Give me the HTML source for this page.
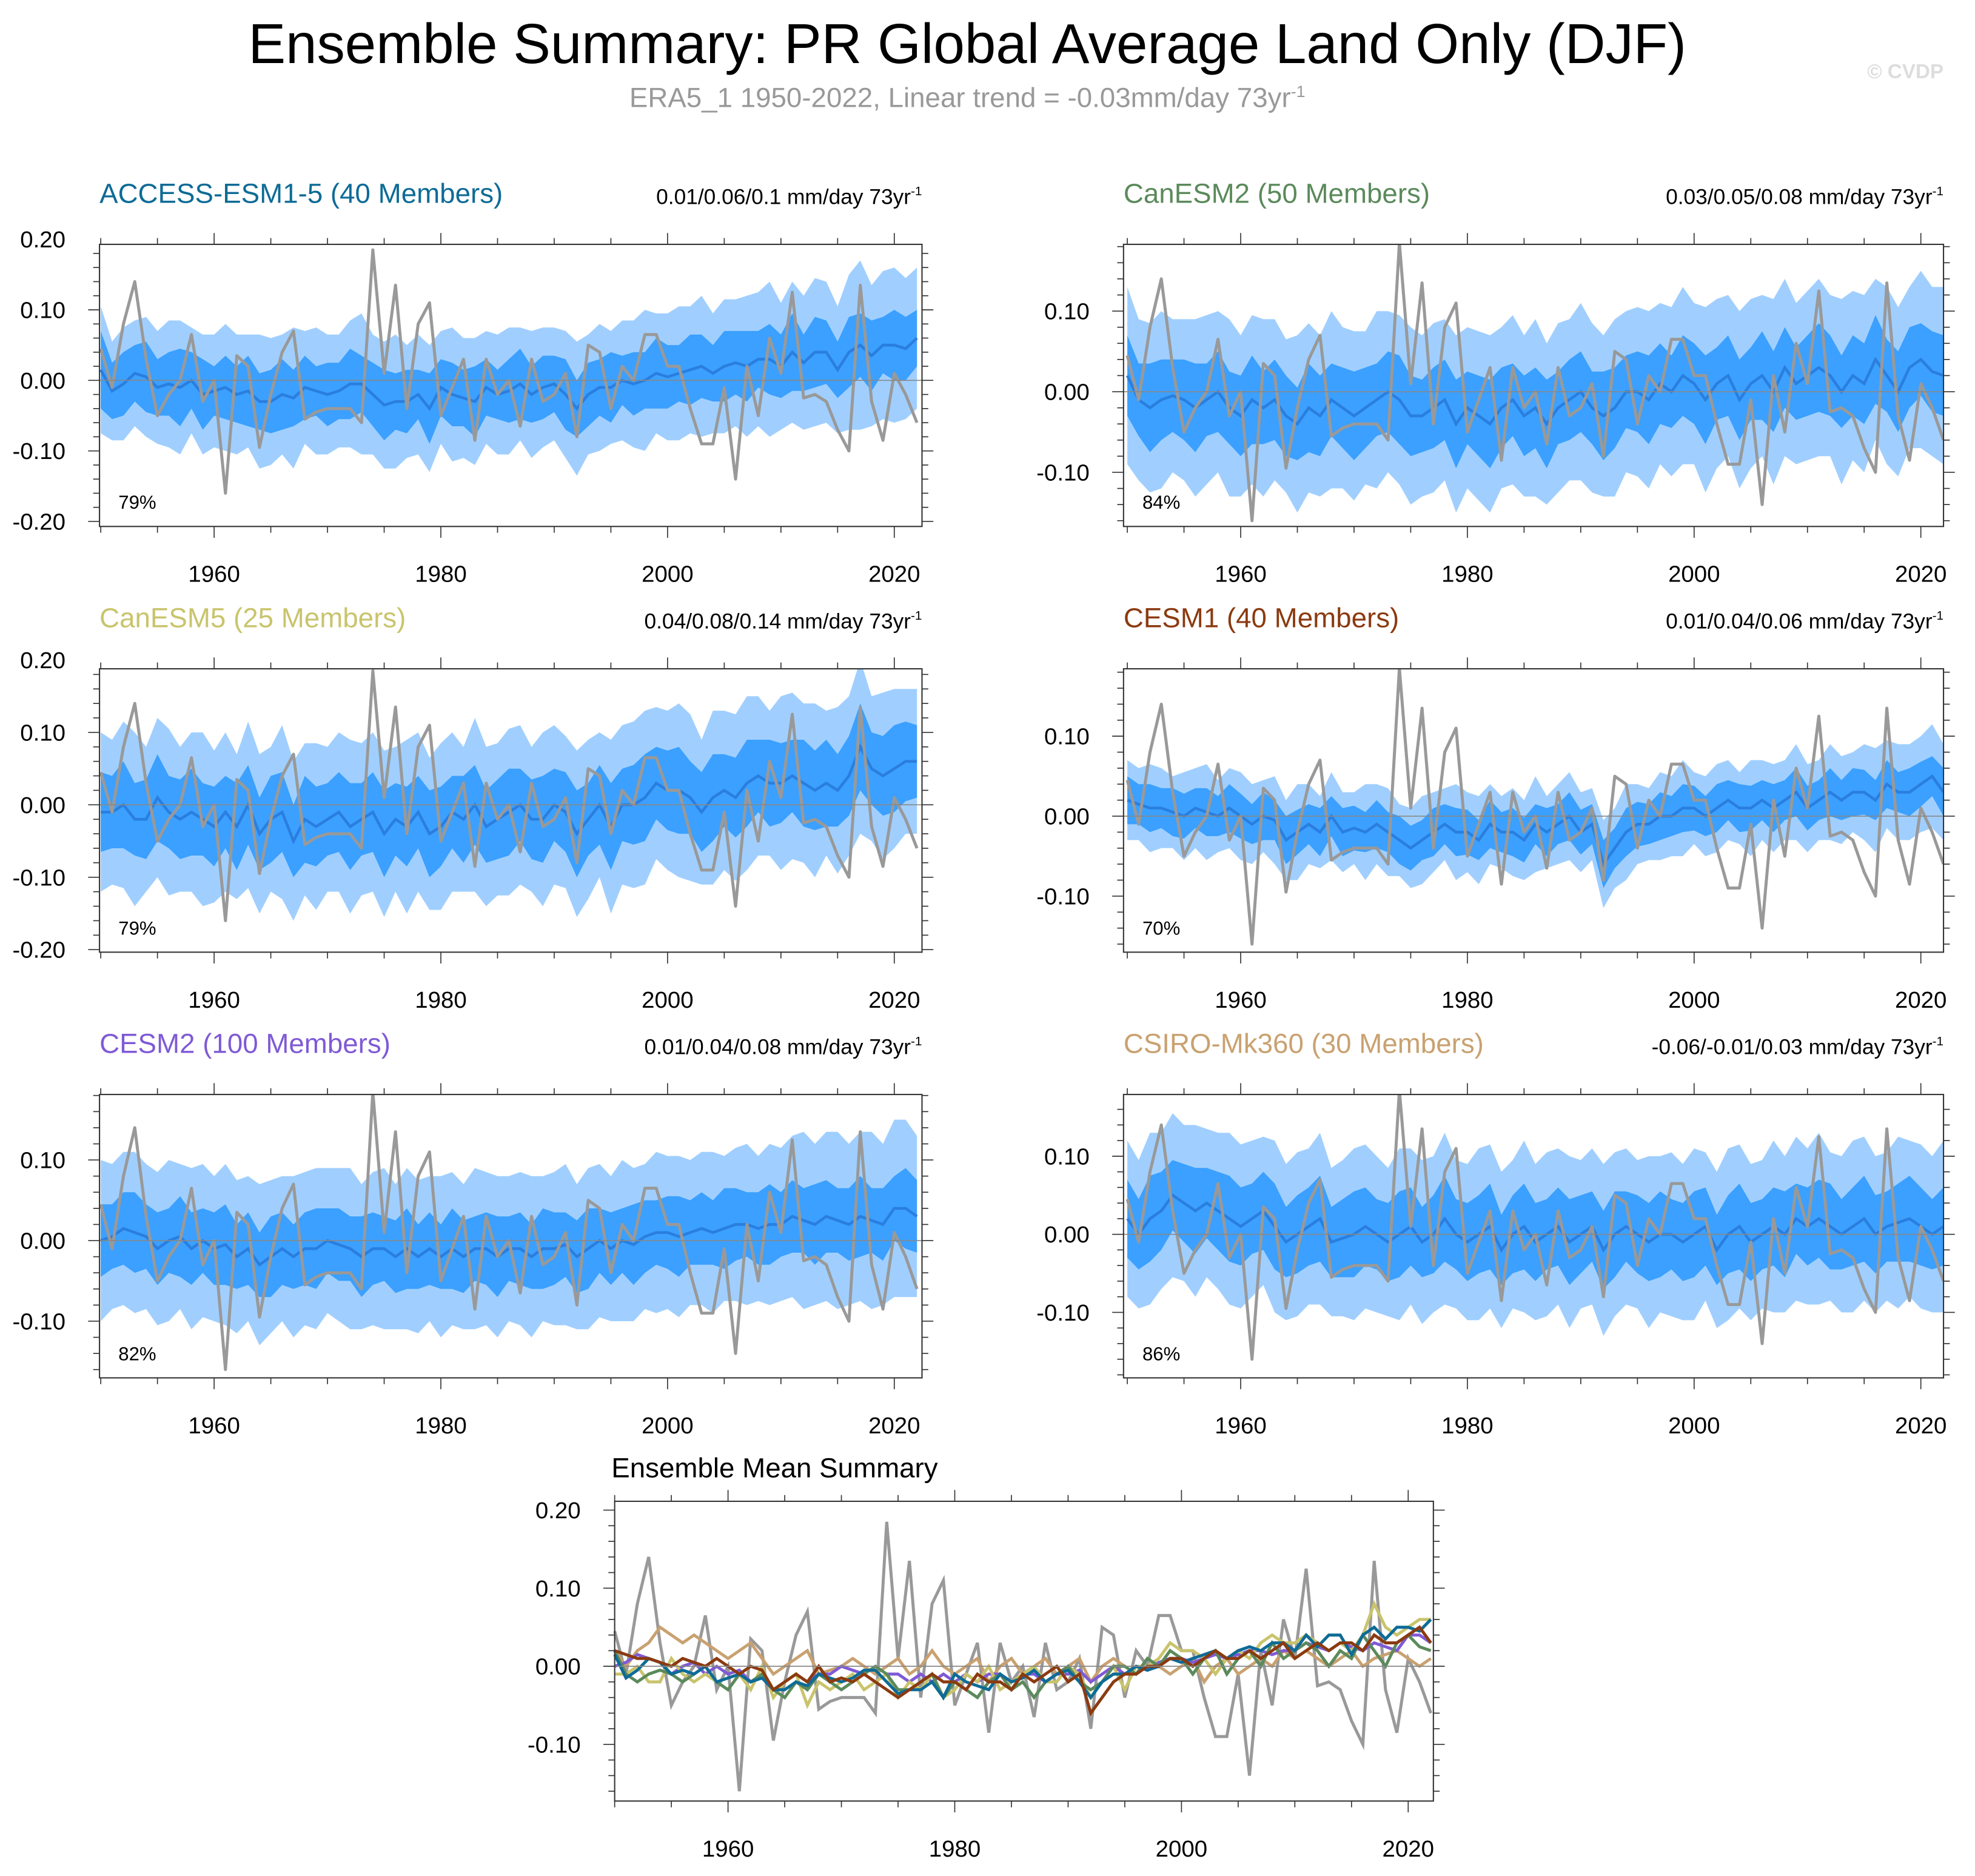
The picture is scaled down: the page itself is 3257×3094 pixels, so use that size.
<!DOCTYPE html>
<html><head><meta charset="utf-8"><style>
html,body{margin:0;padding:0;background:#fff;}
svg{display:block;font-family:"Liberation Sans",sans-serif;}
</style></head><body>
<svg id="chart" width="3257" height="3094" viewBox="0 0 1568 1489.5" xmlns="http://www.w3.org/2000/svg">
<rect width="1568" height="1489.5" fill="#fff"/>
<text x="768" y="50" text-anchor="middle" font-size="44.5" fill="#000">Ensemble Summary: PR Global Average Land Only (DJF)</text>
<text x="768" y="85" text-anchor="middle" font-size="22" fill="#999">ERA5_1 1950-2022, Linear trend = -0.03mm/day 73yr<tspan dy="-8" font-size="13">-1</tspan></text>
<text x="1543" y="62" text-anchor="end" font-size="16" font-weight="bold" fill="#ddd">© CVDP</text>
<text x="615" y="1173" text-anchor="middle" font-size="22" fill="#000">Ensemble Mean Summary</text>
<g id="plots"></g>
</svg>
<script>
const years = []; for (let y=1950; y<=2022; y++) years.push(y);
const obs = [0.045,-0.01,0.08,0.14,0.03,-0.05,-0.02,0.0,0.065,-0.03,0.0,-0.16,0.035,0.02,-0.095,-0.02,0.04,0.07,-0.055,-0.045,-0.04,-0.04,-0.04,-0.06,0.185,0.01,0.135,-0.04,0.08,0.11,-0.05,-0.01,0.03,-0.085,0.03,-0.02,0.0,-0.065,0.03,-0.03,-0.02,0.01,-0.08,0.05,0.04,-0.04,0.02,0.0,0.065,0.065,0.02,0.02,-0.04,-0.09,-0.09,-0.01,-0.14,0.02,-0.05,0.06,0.01,0.125,-0.025,-0.02,-0.03,-0.07,-0.1,0.135,-0.03,-0.085,0.01,-0.02,-0.06];
const accMean = [0.015,-0.015,-0.005,0.01,0.005,-0.01,-0.005,-0.01,0.0,-0.02,-0.015,-0.01,-0.02,-0.015,-0.03,-0.03,-0.02,-0.025,-0.01,-0.015,-0.02,-0.015,-0.005,-0.005,-0.02,-0.035,-0.03,-0.03,-0.02,-0.04,-0.01,-0.02,-0.025,-0.03,-0.01,-0.02,-0.015,-0.005,-0.02,-0.01,-0.005,-0.02,-0.04,-0.02,-0.01,-0.01,0.0,-0.005,0.0,0.01,0.005,0.01,0.015,0.02,0.01,0.02,0.025,0.02,0.03,0.03,0.02,0.04,0.025,0.04,0.04,0.015,0.04,0.05,0.035,0.05,0.05,0.045,0.06];
const can2Mean = [0.02,-0.01,-0.02,-0.01,-0.005,-0.01,-0.02,-0.01,0.0,-0.02,-0.03,-0.01,-0.02,-0.01,-0.03,-0.04,-0.02,-0.03,-0.01,-0.02,-0.03,-0.02,-0.01,0.0,-0.01,-0.03,-0.03,-0.02,-0.01,-0.04,-0.02,-0.03,-0.04,-0.02,-0.01,-0.03,-0.02,-0.04,-0.02,-0.01,0.0,-0.02,-0.03,-0.02,0.0,0.0,-0.01,0.01,0.0,0.02,0.01,-0.01,0.01,0.02,-0.01,0.01,0.02,0.0,0.03,0.01,0.02,0.03,0.02,0.0,0.02,0.01,0.04,0.02,0.0,0.03,0.04,0.025,0.02];
const can5Mean = [-0.01,-0.01,0.0,-0.02,-0.02,0.01,-0.01,-0.02,-0.01,-0.02,-0.03,-0.01,-0.03,0.0,-0.04,-0.02,-0.01,-0.05,-0.02,-0.03,-0.02,-0.01,-0.03,-0.02,-0.01,-0.04,-0.02,-0.03,-0.01,-0.04,-0.03,-0.01,-0.02,0.0,-0.03,-0.02,-0.01,0.0,-0.02,-0.02,0.0,-0.01,-0.04,-0.02,0.0,-0.03,0.0,0.0,0.01,0.03,0.02,0.02,0.01,-0.01,0.01,0.02,0.01,0.03,0.04,0.03,0.03,0.04,0.03,0.02,0.03,0.02,0.04,0.08,0.05,0.04,0.05,0.06,0.06];
const cesm1Mean = [0.02,0.015,0.01,0.01,0.005,0.0,0.01,0.005,0.0,0.01,0.0,-0.01,0.0,-0.005,-0.03,-0.02,-0.01,-0.02,0.0,-0.02,-0.015,-0.02,-0.01,-0.02,-0.03,-0.04,-0.03,-0.02,-0.01,-0.02,-0.02,-0.03,-0.01,-0.02,-0.02,-0.03,-0.01,-0.02,-0.01,0.0,-0.02,-0.01,-0.06,-0.04,-0.02,-0.01,-0.01,0.0,0.0,0.01,0.01,0.0,0.01,0.02,0.01,0.01,0.02,0.01,0.02,0.03,0.01,0.02,0.03,0.02,0.03,0.03,0.02,0.04,0.03,0.03,0.04,0.05,0.03];
const cesm2Mean = [0.0,0.005,0.015,0.01,0.005,-0.01,0.0,0.005,-0.01,0.0,-0.01,-0.005,-0.02,-0.01,-0.03,-0.02,-0.01,-0.02,-0.01,-0.01,0.0,-0.005,-0.01,-0.02,-0.01,-0.01,-0.02,-0.01,-0.02,-0.01,-0.02,-0.01,-0.02,-0.01,-0.01,-0.02,-0.01,-0.01,-0.02,-0.01,-0.01,-0.005,-0.02,-0.01,0.0,-0.01,0.0,-0.005,0.005,0.01,0.01,0.005,0.01,0.015,0.01,0.015,0.02,0.02,0.015,0.02,0.02,0.03,0.025,0.02,0.03,0.025,0.02,0.03,0.025,0.02,0.04,0.04,0.03];
const csiroMean = [0.02,0.0,0.02,0.03,0.05,0.04,0.03,0.04,0.03,0.02,0.01,0.02,0.03,0.01,-0.01,0.0,0.01,0.02,-0.01,-0.005,0.0,0.01,0.0,-0.01,0.0,0.01,-0.01,0.0,0.02,0.0,-0.01,0.0,0.01,-0.02,0.0,0.01,-0.01,0.0,0.01,-0.01,0.0,0.01,-0.02,0.0,0.01,0.0,-0.01,0.0,0.0,-0.01,0.0,0.01,-0.02,0.0,0.01,-0.01,0.0,0.01,0.0,0.02,0.01,0.02,0.01,0.0,0.01,0.02,0.0,0.01,0.015,0.02,0.01,0.0,0.01];
const accIn = [0.055,0.04,0.045,0.04,0.05,0.04,0.045,0.055,0.04,0.05,0.035,0.045,0.04,0.05,0.04,0.045,0.05,0.04,0.045,0.035,0.045,0.04,0.05,0.04,0.045,0.05,0.04,0.045,0.035,0.05,0.04,0.045,0.04,0.05,0.04,0.035,0.045,0.05,0.04,0.045,0.04,0.05,0.04,0.045,0.04,0.05,0.035,0.045,0.04,0.05,0.045,0.04,0.05,0.045,0.04,0.05,0.045,0.05,0.04,0.05,0.045,0.055,0.04,0.05,0.045,0.04,0.05,0.045,0.05,0.04,0.05,0.045,0.04];
const accOut = [0.09,0.07,0.08,0.075,0.085,0.08,0.09,0.095,0.075,0.085,0.08,0.09,0.085,0.08,0.095,0.09,0.085,0.1,0.08,0.09,0.085,0.08,0.09,0.1,0.085,0.09,0.095,0.08,0.085,0.09,0.08,0.095,0.085,0.09,0.08,0.085,0.09,0.08,0.09,0.085,0.08,0.09,0.095,0.085,0.09,0.08,0.085,0.09,0.1,0.085,0.09,0.095,0.09,0.1,0.085,0.095,0.09,0.1,0.095,0.11,0.09,0.1,0.095,0.105,0.1,0.09,0.11,0.12,0.1,0.105,0.11,0.1,0.1];
const can2In = [0.05,0.045,0.055,0.05,0.045,0.05,0.055,0.045,0.05,0.045,0.05,0.055,0.045,0.05,0.05,0.045,0.055,0.05,0.045,0.05,0.055,0.05,0.045,0.05,0.055,0.05,0.045,0.05,0.05,0.055,0.045,0.05,0.055,0.05,0.045,0.05,0.05,0.055,0.045,0.05,0.05,0.045,0.055,0.05,0.045,0.05,0.055,0.05,0.045,0.05,0.05,0.055,0.045,0.05,0.05,0.045,0.055,0.05,0.05,0.045,0.05,0.055,0.05,0.045,0.05,0.05,0.055,0.045,0.05,0.05,0.045,0.05,0.05];
const can2Out = [0.11,0.1,0.105,0.11,0.095,0.1,0.11,0.105,0.1,0.11,0.1,0.105,0.11,0.1,0.095,0.11,0.105,0.1,0.11,0.1,0.105,0.095,0.11,0.1,0.105,0.11,0.1,0.105,0.1,0.11,0.1,0.105,0.11,0.1,0.105,0.1,0.11,0.1,0.105,0.1,0.11,0.105,0.1,0.11,0.1,0.105,0.11,0.1,0.105,0.11,0.1,0.115,0.105,0.1,0.11,0.105,0.1,0.115,0.11,0.1,0.105,0.11,0.1,0.115,0.105,0.11,0.1,0.11,0.105,0.1,0.11,0.105,0.11];
const can5In = [0.055,0.05,0.06,0.05,0.055,0.06,0.05,0.055,0.06,0.05,0.055,0.05,0.06,0.055,0.05,0.06,0.055,0.05,0.06,0.055,0.05,0.055,0.06,0.05,0.055,0.06,0.05,0.055,0.05,0.06,0.055,0.05,0.06,0.055,0.05,0.055,0.06,0.05,0.055,0.06,0.05,0.055,0.06,0.05,0.055,0.06,0.05,0.055,0.06,0.05,0.055,0.06,0.05,0.055,0.06,0.05,0.055,0.06,0.05,0.06,0.055,0.05,0.06,0.055,0.06,0.05,0.055,0.06,0.05,0.055,0.06,0.055,0.05];
const can5Out = [0.11,0.1,0.115,0.12,0.1,0.11,0.115,0.1,0.11,0.12,0.105,0.11,0.1,0.115,0.11,0.1,0.12,0.11,0.105,0.115,0.1,0.11,0.12,0.105,0.11,0.115,0.1,0.12,0.11,0.105,0.115,0.11,0.1,0.12,0.11,0.105,0.115,0.11,0.1,0.12,0.11,0.105,0.115,0.11,0.1,0.12,0.11,0.115,0.12,0.105,0.11,0.12,0.115,0.1,0.12,0.11,0.115,0.12,0.11,0.1,0.12,0.115,0.11,0.12,0.1,0.115,0.11,0.12,0.1,0.115,0.11,0.1,0.1];
const cesm1In = [0.03,0.025,0.03,0.025,0.03,0.028,0.025,0.03,0.025,0.03,0.028,0.025,0.03,0.025,0.03,0.028,0.025,0.03,0.025,0.03,0.028,0.025,0.03,0.025,0.03,0.028,0.025,0.03,0.025,0.03,0.028,0.025,0.03,0.025,0.03,0.028,0.025,0.03,0.025,0.03,0.028,0.025,0.03,0.025,0.03,0.028,0.025,0.03,0.025,0.03,0.028,0.025,0.03,0.025,0.03,0.028,0.025,0.03,0.025,0.03,0.028,0.025,0.03,0.025,0.03,0.028,0.025,0.03,0.025,0.03,0.028,0.025,0.03];
const cesm1Out = [0.05,0.045,0.055,0.05,0.045,0.055,0.05,0.06,0.045,0.05,0.055,0.05,0.045,0.055,0.05,0.06,0.05,0.045,0.055,0.05,0.045,0.06,0.05,0.055,0.045,0.05,0.055,0.05,0.045,0.06,0.05,0.055,0.05,0.045,0.055,0.05,0.06,0.045,0.05,0.055,0.05,0.045,0.055,0.05,0.06,0.05,0.045,0.055,0.05,0.06,0.045,0.05,0.055,0.05,0.045,0.06,0.05,0.055,0.05,0.06,0.055,0.05,0.06,0.055,0.05,0.06,0.065,0.055,0.06,0.06,0.06,0.065,0.06];
const cesm2In = [0.045,0.04,0.045,0.05,0.04,0.045,0.04,0.05,0.045,0.04,0.045,0.05,0.04,0.045,0.04,0.05,0.045,0.04,0.045,0.05,0.04,0.045,0.04,0.05,0.045,0.04,0.045,0.05,0.04,0.045,0.04,0.05,0.045,0.04,0.045,0.05,0.04,0.045,0.04,0.05,0.045,0.04,0.045,0.05,0.04,0.045,0.04,0.05,0.045,0.04,0.045,0.05,0.04,0.045,0.04,0.05,0.045,0.04,0.045,0.05,0.04,0.045,0.04,0.05,0.045,0.04,0.045,0.05,0.04,0.045,0.04,0.05,0.045];
const cesm2Out = [0.1,0.09,0.095,0.1,0.09,0.095,0.1,0.09,0.1,0.095,0.09,0.1,0.095,0.09,0.1,0.095,0.09,0.1,0.095,0.1,0.09,0.095,0.1,0.09,0.095,0.1,0.09,0.1,0.095,0.09,0.1,0.095,0.09,0.1,0.095,0.1,0.09,0.095,0.1,0.09,0.095,0.1,0.09,0.1,0.095,0.09,0.1,0.095,0.09,0.1,0.095,0.1,0.09,0.095,0.1,0.09,0.095,0.1,0.09,0.1,0.095,0.1,0.11,0.1,0.105,0.11,0.1,0.105,0.11,0.1,0.11,0.11,0.1];
const csiroIn = [0.05,0.045,0.055,0.05,0.045,0.05,0.055,0.045,0.05,0.055,0.05,0.045,0.05,0.055,0.045,0.05,0.05,0.055,0.045,0.05,0.055,0.05,0.045,0.05,0.055,0.05,0.045,0.05,0.055,0.045,0.05,0.05,0.055,0.045,0.05,0.055,0.05,0.045,0.05,0.055,0.05,0.045,0.05,0.055,0.045,0.05,0.05,0.055,0.045,0.05,0.055,0.05,0.045,0.05,0.055,0.05,0.045,0.05,0.055,0.045,0.05,0.05,0.055,0.045,0.05,0.055,0.05,0.045,0.05,0.055,0.05,0.045,0.05];
const csiroOut = [0.1,0.095,0.11,0.1,0.105,0.1,0.11,0.095,0.1,0.11,0.105,0.1,0.095,0.11,0.1,0.105,0.1,0.11,0.095,0.1,0.11,0.105,0.1,0.095,0.11,0.1,0.105,0.1,0.11,0.095,0.1,0.11,0.105,0.1,0.095,0.11,0.1,0.105,0.1,0.11,0.095,0.1,0.11,0.105,0.1,0.095,0.11,0.1,0.105,0.1,0.11,0.095,0.1,0.11,0.105,0.1,0.095,0.11,0.1,0.105,0.1,0.11,0.095,0.1,0.11,0.105,0.1,0.095,0.11,0.1,0.105,0.1,0.11];
const modelNames = ["ACCESS-ESM1-5 (40 Members)","CanESM2 (50 Members)","CanESM5 (25 Members)","CESM1 (40 Members)","CESM2 (100 Members)","CSIRO-Mk360 (30 Members)"];
const trendLabels = ["0.01/0.06/0.1","0.03/0.05/0.08","0.04/0.08/0.14","0.01/0.04/0.06","0.01/0.04/0.08","-0.06/-0.01/0.03"];
const pctLabels = ["79%","84%","79%","70%","82%","86%"];
const xTickLabels = [1960,1980,2000,2020];
const yTicksWide = [0.2,0.1,0,-0.1,-0.2];
const yTicksNarrow = [0.1,0,-0.1];
const yTicksBottom = [0.2,0.1,0,-0.1];
const means = [accMean,can2Mean,can5Mean,cesm1Mean,cesm2Mean,csiroMean];
const inners = [accIn,can2In,can5In,cesm1In,cesm2In,csiroIn];
const outers = [accOut,can2Out,can5Out,cesm1Out,cesm2Out,csiroOut];
const colors = ["#0e6b96","#5b8a5b","#c9c46c","#8b3a10","#7f5ad6","#c9a170"];

const NS="http://www.w3.org/2000/svg";
const root=document.getElementById('plots');
function mk(tag,attrs,parent){const e=document.createElementNS(NS,tag);for(const k in attrs)e.setAttribute(k,attrs[k]);(parent||root).appendChild(e);return e;}
const fmt=v=>(v<0?"-":"")+Math.abs(v).toFixed(2);

const layout=[
 {bx:79,bw:653,top:194,bot:418,x60:170,zero:302,k:560,ticks:yTicksWide},
 {bx:892,bw:651,top:194,bot:418,x60:985,zero:311,k:640,ticks:yTicksNarrow},
 {bx:79,bw:653,top:531,bot:756,x60:170,zero:639,k:575,ticks:yTicksWide},
 {bx:892,bw:651,top:531,bot:756,x60:985,zero:648,k:635,ticks:yTicksNarrow},
 {bx:79,bw:653,top:869,bot:1094,x60:170,zero:985,k:640,ticks:yTicksNarrow},
 {bx:892,bw:651,top:869,bot:1094,x60:985,zero:980,k:620,ticks:yTicksNarrow},
 {bx:488,bw:650,top:1192,bot:1430,x60:578,zero:1323,k:620,ticks:yTicksBottom}
];

function axes(L){
 const xs=yr=>L.x60+(yr-1960)*9;
 const ys=v=>L.zero-v*L.k;
 return {xs,ys};
}
function linePts(arr,xs,ys){return arr.map((v,i)=>xs(years[i]).toFixed(1)+","+ys(v).toFixed(1)).join(" ");}
function bandPts(mean,w,xs,ys){
 const up=mean.map((v,i)=>xs(years[i]).toFixed(1)+","+ys(v+(w[i]??w[w.length-1])).toFixed(1));
 const lo=mean.map((v,i)=>xs(years[i]).toFixed(1)+","+ys(v-(w[i]??w[w.length-1])).toFixed(1)).reverse();
 return up.concat(lo).join(" ");
}
function frame(L,g,xs,ys){
 const right=L.bx+L.bw;
 const z=mk('line',{x1:L.bx,x2:right,y1:ys(0),y2:ys(0),stroke:'#888','stroke-width':0.8},g);
 
 
 const box=mk('rect',{x:L.bx,y:L.top,width:L.bw,height:L.bot-L.top,fill:'none',stroke:'#333','stroke-width':1},g);
 
 
 for(let yr=1950;yr<=2020;yr+=5){
  const x=xs(yr); const major=(yr%20===0);
  const len=major?9:5;
  mk('line',{x1:x,x2:x,y1:L.top,y2:L.top-len,stroke:'#333','stroke-width':0.8},g);
  mk('line',{x1:x,x2:x,y1:L.bot,y2:L.bot+len,stroke:'#333','stroke-width':0.8},g);
 }
 xTickLabels.forEach(yr=>{
  const t=mk('text',{x:xs(yr),y:L.bot+44,'text-anchor':'middle','font-size':18.5},g);
  t.textContent=yr;
  
  
 });
 for(let m=-20;m<=20;m++){
  const v=m*0.02; const y=ys(v);
  if(y<L.top-0.5||y>L.bot+0.5) continue;
  const major=(m%5===0); const len=major?9:5;
  mk('line',{x1:L.bx,x2:L.bx-len,y1:y,y2:y,stroke:'#333','stroke-width':0.8},g);
  mk('line',{x1:right,x2:right+len,y1:y,y2:y,stroke:'#333','stroke-width':0.8},g);
 }
 L.ticks.forEach(v=>{
  const t=mk('text',{x:L.bx-27,y:ys(v)+6.5,'text-anchor':'end','font-size':18.5},g);
  t.textContent=fmt(v);
  
  
 });
}

for(let p=0;p<6;p++){
 const L=layout[p];
 const g=mk('g',{});
 
 
 const {xs,ys}=axes(L);
 const cp=mk('clipPath',{id:'cp'+p},g);
 mk('rect',{x:L.bx,y:L.top,width:L.bw,height:L.bot-L.top},cp);
 const inner=mk('g',{'clip-path':'url(#cp'+p+')'},g);
 const ob=mk('polygon',{points:bandPts(means[p],outers[p],xs,ys),fill:'#a0cfff'},inner);
 
 
 const ib=mk('polygon',{points:bandPts(means[p],inners[p],xs,ys),fill:'#3ba0ff'},inner);
 
 
 const ml=mk('polyline',{points:linePts(means[p],xs,ys),fill:'none',stroke:'#2a7ede','stroke-width':2.2},inner);
 
 
 const ol=mk('polyline',{points:linePts(obs,xs,ys),fill:'none',stroke:'#999','stroke-width':2.4,'stroke-linejoin':'round'},inner);
 
 
 frame(L,g,xs,ys);
 const tt=mk('text',{x:L.bx,y:L.top-33,'font-size':22,fill:colors[p]},g);
 tt.textContent=modelNames[p];
 
 
 const tr=mk('text',{x:L.bx+L.bw,y:L.top-32,'text-anchor':'end','font-size':17},g);
 
 
 tr.appendChild(document.createTextNode(trendLabels[p]+" mm/day 73yr"));
 const sup=mk('tspan',{dy:-7,'font-size':10},tr); sup.textContent="-1";
 const pc=mk('text',{x:L.bx+15,y:L.bot-14,'font-size':15},g);
 pc.textContent=pctLabels[p];
 
 
}
{
 const L=layout[6];
 const g=mk('g',{});
 
 
 const {xs,ys}=axes(L);
 const ol=mk('polyline',{points:linePts(obs,xs,ys),fill:'none',stroke:'#999','stroke-width':2.4},g);
 
 
 [5,4,2,1,0,3].forEach(p=>{
  const l=mk('polyline',{points:linePts(means[p],xs,ys),fill:'none',stroke:colors[p],'stroke-width':2.4},g);
  
  
 });
 frame(L,g,xs,ys);
}
</script>
</body></html>
